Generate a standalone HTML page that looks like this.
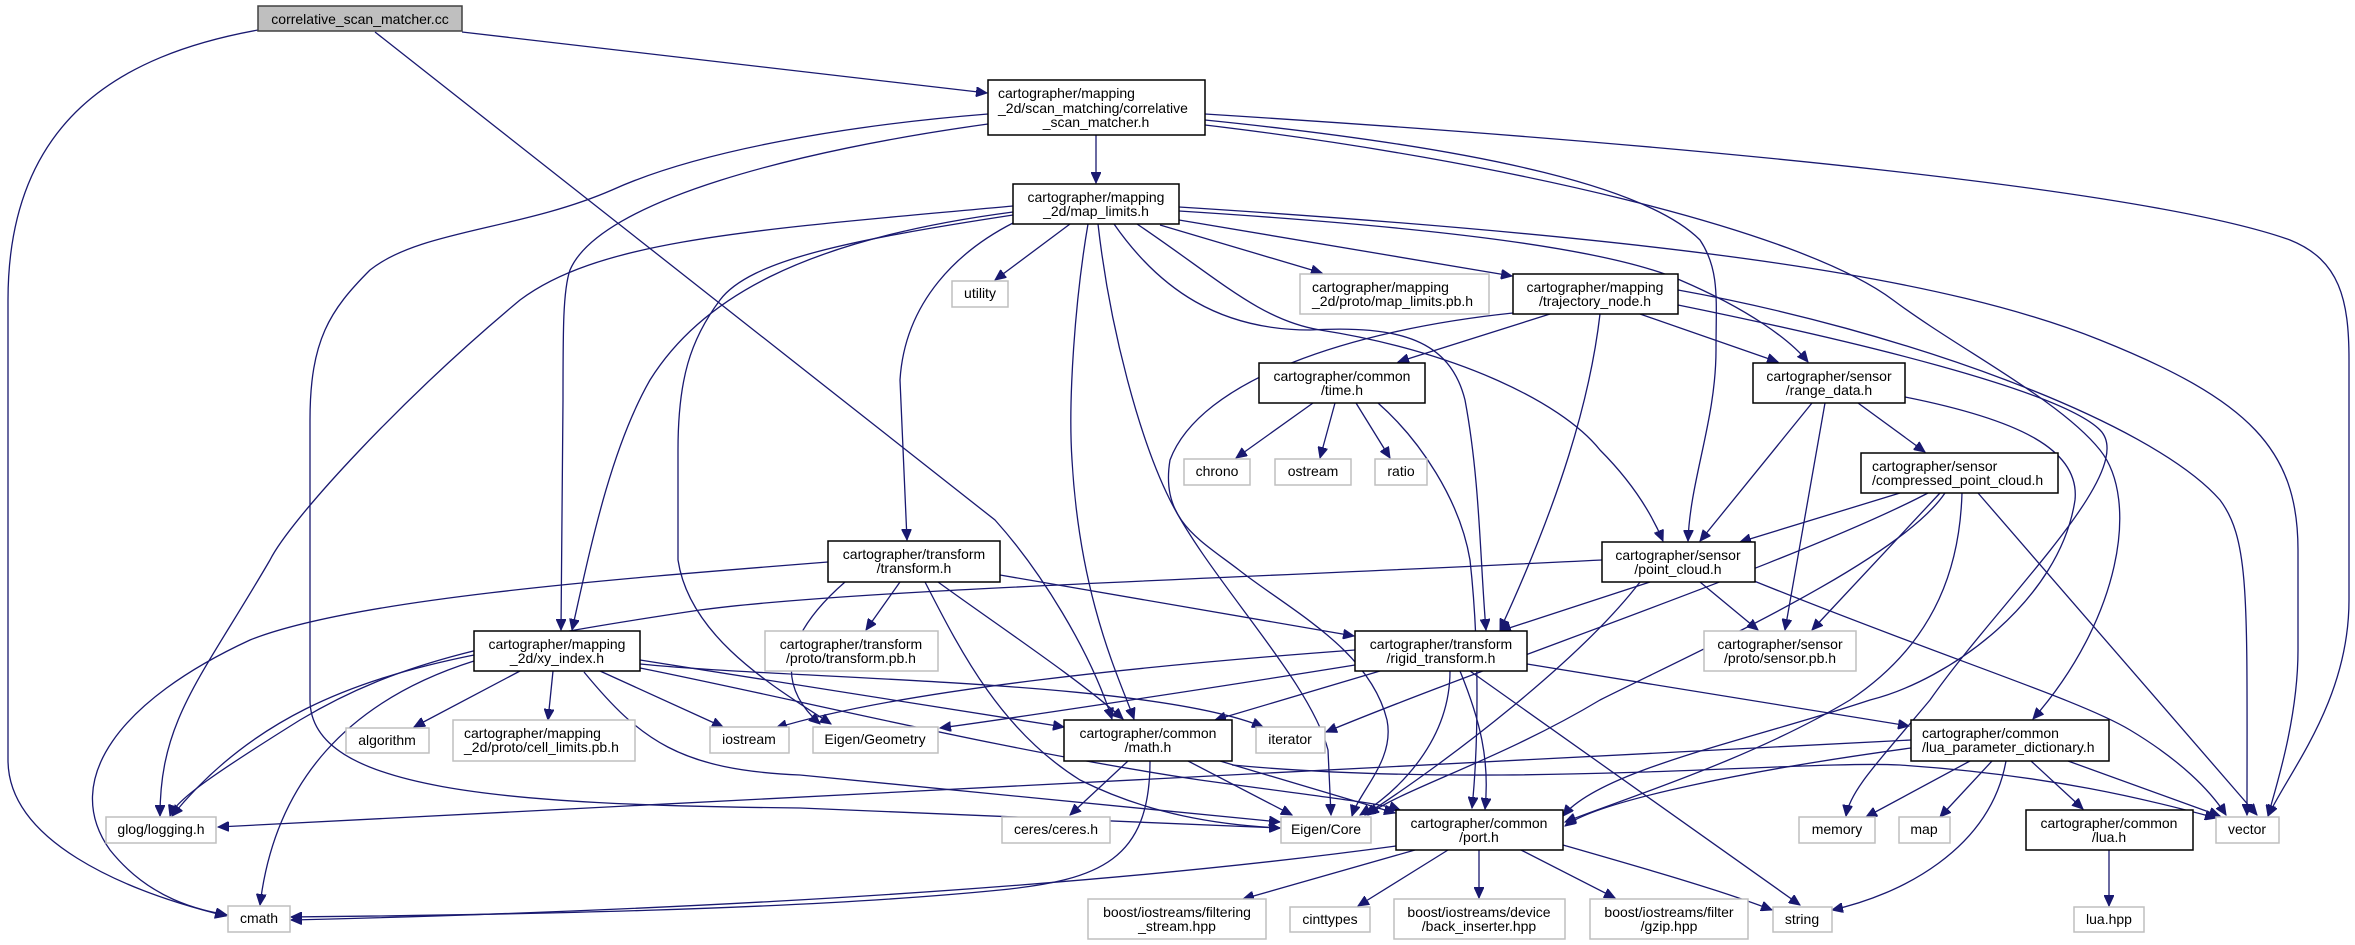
<!DOCTYPE html>
<html><head><meta charset="utf-8">
<style>
html,body{margin:0;padding:0;background:#fff;}
svg{display:block;}
text{font-family:"Liberation Sans",sans-serif;font-size:14px;fill:#000;}
.e{fill:none;stroke:#191970;stroke-width:1.3;marker-end:url(#a);}
.g{fill:#fff;stroke:#bfbfbf;stroke-width:1.5;}
.b{fill:#fff;stroke:#000;stroke-width:1.5;}
</style></head><body>
<svg width="2355" height="945" viewBox="0 0 2355 945" xmlns="http://www.w3.org/2000/svg">
<defs><marker id="a" markerUnits="userSpaceOnUse" markerWidth="12" markerHeight="10" refX="11" refY="5" orient="auto"><path d="M0,0 L11,5 L0,10 z" fill="#191970" stroke="#191970"/></marker></defs>
<g>
<path class="e" d="M258,30 C120,55 8,120 8,300 L8,760 C8,840 120,890 226,916"/>
<path class="e" d="M462,32 L987,93"/>
<path class="e" d="M375,32 L995,520 C1040,570 1090,650 1112,719"/>
<path class="e" d="M1096,135 L1096,183"/>
<path class="e" d="M988,124 C800,150 600,200 570,270 C563,290 563,330 563,400 L561,630"/>
<path class="e" d="M988,114 C850,125 700,150 612,190 C520,230 420,230 370,270 C330,310 310,340 310,420 L310,700 C310,790 500,805 800,808 L1280,828"/>
<path class="e" d="M1205,114 C1700,145 2150,190 2290,240 C2340,260 2349,300 2349,360 L2349,600 C2349,700 2290,770 2268,816"/>
<path class="e" d="M1205,120 C1500,150 1650,190 1700,240 C1720,270 1716,300 1716,350 C1716,420 1690,480 1688,541"/>
<path class="e" d="M1205,125 C1500,160 1800,230 1893,300 C1960,350 2060,400 2100,450 C2140,500 2120,620 2033,719"/>
<path class="e" d="M1070,224 L995,280"/>
<path class="e" d="M1160,225 L1322,273"/>
<path class="e" d="M1179,220 L1512,276"/>
<path class="e" d="M1013,206 C750,230 600,240 520,300 C400,400 290,520 270,560 C200,680 160,720 160,816"/>
<path class="e" d="M1013,212 C800,240 700,300 650,380 C610,450 590,550 572,630"/>
<path class="e" d="M1013,215 C850,240 750,260 720,300 C690,340 678,380 678,450 L678,560 C690,640 780,690 831,724"/>
<path class="e" d="M1013,223 C960,250 905,300 900,380 L907,540"/>
<path class="e" d="M1088,224 C1075,300 1068,400 1072,460 C1080,600 1120,680 1134,719"/>
<path class="e" d="M1098,224 C1110,330 1140,440 1170,500 C1210,580 1310,680 1328,750 L1331,815"/>
<path class="e" d="M1114,224 C1160,290 1220,330 1310,330 C1400,325 1450,340 1465,400 C1480,480 1480,560 1486,630"/>
<path class="e" d="M1137,224 C1220,280 1260,320 1320,330 C1450,350 1560,400 1600,450 C1630,480 1650,510 1663,541"/>
<path class="e" d="M1179,211 C1400,225 1600,245 1680,280 C1750,310 1790,340 1808,362"/>
<path class="e" d="M1179,207 C1700,240 1950,280 2100,340 C2250,400 2298,450 2298,550 L2298,650 C2298,720 2275,790 2268,816"/>
<path class="e" d="M1678,290 C1900,330 2150,420 2220,500 C2250,540 2247,600 2247,815"/>
<path class="e" d="M1550,314 L1398,362"/>
<path class="e" d="M1640,314 L1778,362"/>
<path class="e" d="M1600,314 C1590,400 1560,500 1500,630"/>
<path class="e" d="M1513,313 C1350,330 1200,380 1170,460 C1160,520 1200,540 1239,570 C1290,610 1370,650 1387,720 C1395,760 1360,790 1352,816"/>
<path class="e" d="M1678,305 C1850,340 2060,390 2100,430 C2140,470 2000,600 1930,700 C1880,760 1850,790 1846,816"/>
<path class="e" d="M1313,403 L1236,458"/>
<path class="e" d="M1335,403 L1320,458"/>
<path class="e" d="M1356,403 L1390,458"/>
<path class="e" d="M1378,403 C1420,440 1460,500 1470,560 C1480,650 1478,750 1472,808"/>
<path class="e" d="M1812,403 L1700,541"/>
<path class="e" d="M1825,403 L1785,630"/>
<path class="e" d="M1858,403 L1925,452"/>
<path class="e" d="M1905,397 C2020,420 2080,450 2075,500 C2060,600 1950,680 1870,700 C1750,740 1600,770 1563,816"/>
<path class="e" d="M1900,493 L1740,542"/>
<path class="e" d="M1940,493 L1812,630"/>
<path class="e" d="M1928,493 C1800,560 1500,660 1326,732"/>
<path class="e" d="M1945,493 C1900,560 1700,650 1600,700 C1500,760 1400,790 1368,815"/>
<path class="e" d="M1962,493 C1960,560 1940,640 1850,700 C1750,760 1620,800 1565,822"/>
<path class="e" d="M1978,493 L2257,815"/>
<path class="e" d="M1700,582 L1758,630"/>
<path class="e" d="M1650,582 L1500,631"/>
<path class="e" d="M1640,582 C1580,660 1450,760 1365,815"/>
<path class="e" d="M1602,560 C1200,580 850,590 700,610 C500,640 400,660 300,720 C220,770 175,800 170,816"/>
<path class="e" d="M1754,581 C1950,660 2080,700 2130,730 C2180,760 2210,790 2226,815"/>
<path class="e" d="M900,582 L866,630"/>
<path class="e" d="M1000,575 L1354,636"/>
<path class="e" d="M845,582 C790,630 770,680 820,724"/>
<path class="e" d="M938,582 C1000,627 1080,680 1123,719"/>
<path class="e" d="M925,582 C960,650 1000,730 1080,780 C1150,815 1220,825 1280,828"/>
<path class="e" d="M828,562 C600,580 350,600 250,640 C120,700 60,780 110,850 C150,900 200,910 227,915"/>
<path class="e" d="M520,671 L414,727"/>
<path class="e" d="M553,671 L548,720"/>
<path class="e" d="M600,671 L723,727"/>
<path class="e" d="M640,660 L1064,727"/>
<path class="e" d="M640,664 C800,680 1150,680 1263,727"/>
<path class="e" d="M640,668 C800,700 1000,750 1200,780 C1330,798 1380,803 1400,810"/>
<path class="e" d="M584,672 C640,740 680,770 800,775 L1280,822"/>
<path class="e" d="M474,655 C350,680 250,720 172,816"/>
<path class="e" d="M474,661 C350,700 275,780 260,905"/>
<path class="e" d="M1355,650 C1150,665 900,690 776,728"/>
<path class="e" d="M1355,665 C1200,690 1000,720 940,728"/>
<path class="e" d="M1380,671 L1215,720"/>
<path class="e" d="M1450,671 C1450,740 1400,790 1360,815"/>
<path class="e" d="M1460,671 C1480,720 1490,760 1485,809"/>
<path class="e" d="M1470,671 L1800,905"/>
<path class="e" d="M1527,664 L1909,726"/>
<path class="e" d="M1128,761 L1070,815"/>
<path class="e" d="M1188,761 L1292,815"/>
<path class="e" d="M1220,761 L1395,813"/>
<path class="e" d="M1150,761 C1150,860 1100,880 1000,890 C800,910 500,915 291,917"/>
<path class="e" d="M1232,765 C1500,790 1800,760 1900,765 C2050,775 2150,800 2216,818"/>
<path class="e" d="M1911,740 L218,827"/>
<path class="e" d="M1911,748 C1750,770 1600,800 1565,826"/>
<path class="e" d="M1970,761 L1866,817"/>
<path class="e" d="M1992,761 L1940,817"/>
<path class="e" d="M2031,761 L2083,809"/>
<path class="e" d="M2006,761 C1990,850 1900,895 1832,910"/>
<path class="e" d="M2068,761 L2220,816"/>
<path class="e" d="M2109,850 L2109,906"/>
<path class="e" d="M1396,846 C1000,900 500,915 291,920"/>
<path class="e" d="M1415,850 L1243,899"/>
<path class="e" d="M1448,850 L1358,906"/>
<path class="e" d="M1479,850 L1479,898"/>
<path class="e" d="M1521,850 L1615,898"/>
<path class="e" d="M1563,845 C1650,870 1720,890 1772,910"/>
</g>
<g>
<rect x="258" y="6" width="204" height="25" fill="#bfbfbf" stroke="#404040" stroke-width="1.5"/>
<text x="360" y="24" text-anchor="middle">correlative_scan_matcher.cc</text>

<rect class="b" x="988" y="80" width="217" height="55"/>
<text x="998" y="98">cartographer/mapping</text>
<text x="998" y="113">_2d/scan_matching/correlative</text>
<text x="1096" y="127" text-anchor="middle">_scan_matcher.h</text>

<rect class="b" x="1013" y="184" width="166" height="40"/>
<text x="1096" y="202" text-anchor="middle">cartographer/mapping</text>
<text x="1096" y="216" text-anchor="middle">_2d/map_limits.h</text>

<rect class="g" x="952" y="281" width="56" height="26"/>
<text x="980" y="298" text-anchor="middle">utility</text>

<rect class="g" x="1300" y="274" width="189" height="40"/>
<text x="1312" y="292">cartographer/mapping</text>
<text x="1312" y="306">_2d/proto/map_limits.pb.h</text>

<rect class="b" x="1513" y="274" width="165" height="40"/>
<text x="1595" y="292" text-anchor="middle">cartographer/mapping</text>
<text x="1595" y="306" text-anchor="middle">/trajectory_node.h</text>

<rect class="b" x="1259" y="363" width="166" height="40"/>
<text x="1342" y="381" text-anchor="middle">cartographer/common</text>
<text x="1342" y="395" text-anchor="middle">/time.h</text>

<rect class="b" x="1753" y="363" width="152" height="40"/>
<text x="1829" y="381" text-anchor="middle">cartographer/sensor</text>
<text x="1829" y="395" text-anchor="middle">/range_data.h</text>

<rect class="g" x="1184" y="459" width="66" height="26"/>
<text x="1217" y="476" text-anchor="middle">chrono</text>
<rect class="g" x="1275" y="459" width="76" height="26"/>
<text x="1313" y="476" text-anchor="middle">ostream</text>
<rect class="g" x="1375" y="459" width="52" height="26"/>
<text x="1401" y="476" text-anchor="middle">ratio</text>

<rect class="b" x="1861" y="453" width="197" height="40"/>
<text x="1872" y="471">cartographer/sensor</text>
<text x="1872" y="485">/compressed_point_cloud.h</text>

<rect class="b" x="828" y="541" width="172" height="41"/>
<text x="914" y="559" text-anchor="middle">cartographer/transform</text>
<text x="914" y="573" text-anchor="middle">/transform.h</text>

<rect class="b" x="1602" y="542" width="153" height="40"/>
<text x="1678" y="560" text-anchor="middle">cartographer/sensor</text>
<text x="1678" y="574" text-anchor="middle">/point_cloud.h</text>

<rect class="b" x="474" y="631" width="166" height="40"/>
<text x="557" y="649" text-anchor="middle">cartographer/mapping</text>
<text x="557" y="663" text-anchor="middle">_2d/xy_index.h</text>

<rect class="g" x="765" y="631" width="173" height="40"/>
<text x="851" y="649" text-anchor="middle">cartographer/transform</text>
<text x="851" y="663" text-anchor="middle">/proto/transform.pb.h</text>

<rect class="b" x="1355" y="631" width="172" height="40"/>
<text x="1441" y="649" text-anchor="middle">cartographer/transform</text>
<text x="1441" y="663" text-anchor="middle">/rigid_transform.h</text>

<rect class="g" x="1704" y="631" width="152" height="40"/>
<text x="1780" y="649" text-anchor="middle">cartographer/sensor</text>
<text x="1780" y="663" text-anchor="middle">/proto/sensor.pb.h</text>

<rect class="g" x="346" y="728" width="83" height="25"/>
<text x="387" y="745" text-anchor="middle">algorithm</text>

<rect class="g" x="453" y="720" width="182" height="41"/>
<text x="464" y="738">cartographer/mapping</text>
<text x="464" y="752">_2d/proto/cell_limits.pb.h</text>

<rect class="g" x="710" y="727" width="79" height="26"/>
<text x="749" y="744" text-anchor="middle">iostream</text>

<rect class="g" x="813" y="727" width="125" height="26"/>
<text x="875" y="744" text-anchor="middle">Eigen/Geometry</text>

<rect class="b" x="1064" y="720" width="168" height="41"/>
<text x="1148" y="738" text-anchor="middle">cartographer/common</text>
<text x="1148" y="752" text-anchor="middle">/math.h</text>

<rect class="g" x="1256" y="727" width="69" height="26"/>
<text x="1290" y="744" text-anchor="middle">iterator</text>

<rect class="b" x="1911" y="720" width="198" height="41"/>
<text x="1922" y="738">cartographer/common</text>
<text x="1922" y="752">/lua_parameter_dictionary.h</text>

<rect class="g" x="106" y="817" width="110" height="26"/>
<text x="161" y="834" text-anchor="middle">glog/logging.h</text>

<rect class="g" x="1002" y="817" width="108" height="26"/>
<text x="1056" y="834" text-anchor="middle">ceres/ceres.h</text>

<rect class="g" x="1281" y="817" width="90" height="26"/>
<text x="1326" y="834" text-anchor="middle">Eigen/Core</text>

<rect class="b" x="1396" y="810" width="167" height="40"/>
<text x="1479" y="828" text-anchor="middle">cartographer/common</text>
<text x="1479" y="842" text-anchor="middle">/port.h</text>

<rect class="g" x="1799" y="817" width="76" height="26"/>
<text x="1837" y="834" text-anchor="middle">memory</text>
<rect class="g" x="1899" y="817" width="51" height="26"/>
<text x="1924" y="834" text-anchor="middle">map</text>

<rect class="b" x="2026" y="810" width="167" height="40"/>
<text x="2109" y="828" text-anchor="middle">cartographer/common</text>
<text x="2109" y="842" text-anchor="middle">/lua.h</text>

<rect class="g" x="2216" y="817" width="63" height="26"/>
<text x="2247" y="834" text-anchor="middle">vector</text>

<rect class="g" x="228" y="906" width="62" height="26"/>
<text x="259" y="923" text-anchor="middle">cmath</text>

<rect class="g" x="1088" y="899" width="178" height="40"/>
<text x="1177" y="917" text-anchor="middle">boost/iostreams/filtering</text>
<text x="1177" y="931" text-anchor="middle">_stream.hpp</text>

<rect class="g" x="1290" y="907" width="80" height="25"/>
<text x="1330" y="924" text-anchor="middle">cinttypes</text>

<rect class="g" x="1394" y="899" width="171" height="40"/>
<text x="1479" y="917" text-anchor="middle">boost/iostreams/device</text>
<text x="1479" y="931" text-anchor="middle">/back_inserter.hpp</text>

<rect class="g" x="1590" y="899" width="158" height="40"/>
<text x="1669" y="917" text-anchor="middle">boost/iostreams/filter</text>
<text x="1669" y="931" text-anchor="middle">/gzip.hpp</text>

<rect class="g" x="1773" y="907" width="59" height="25"/>
<text x="1802" y="924" text-anchor="middle">string</text>

<rect class="g" x="2074" y="907" width="70" height="25"/>
<text x="2109" y="924" text-anchor="middle">lua.hpp</text>
</g>
</svg>
</body></html>
